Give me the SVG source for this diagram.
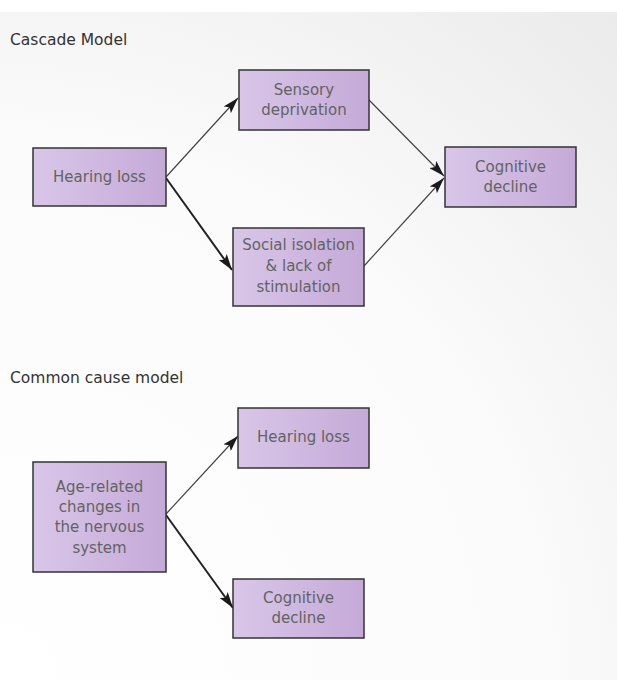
<svg xmlns="http://www.w3.org/2000/svg" width="617" height="680" viewBox="0 0 617 680">
<defs>
<radialGradient id="bg" gradientUnits="userSpaceOnUse" cx="0" cy="680" r="900">
<stop offset="0" stop-color="#ffffff"/>
<stop offset="0.6" stop-color="#fbfbfb"/>
<stop offset="1" stop-color="#ebebeb"/>
</radialGradient>
<linearGradient id="box" x1="0" y1="0" x2="1" y2="0">
<stop offset="0" stop-color="#d8c6e8"/>
<stop offset="1" stop-color="#c5aad8"/>
</linearGradient>
<marker id="ah" viewBox="0 0 16 10" refX="16" refY="5" markerWidth="16" markerHeight="10" markerUnits="userSpaceOnUse" orient="auto">
<path d="M0,0 L16,5 L0,10 L3.5,5 Z" fill="#1a1a1a"/>
</marker>
</defs>
<style>
.box{fill:url(#box);stroke:#333333;stroke-width:1.5}
.t{font-family:"DejaVu Sans",Verdana,sans-serif;font-size:15px;fill:#636363;text-anchor:middle}
.title{font-family:"DejaVu Sans",Verdana,sans-serif;font-size:15.5px;fill:#333333}
.thin{stroke:#444444;stroke-width:1.2;fill:none}
.thick{stroke:#222222;stroke-width:2;fill:none}
</style>
<rect x="0" y="0" width="617" height="680" fill="#ffffff"/>
<rect x="0" y="12" width="617" height="668" fill="url(#bg)"/>
<text class="title" x="10" y="45">Cascade Model</text>
<text class="title" x="10" y="383">Common cause model</text>
<g id="connectors">
<line class="thin" x1="166" y1="177" x2="238" y2="98" marker-end="url(#ah)"/>
<line class="thick" x1="166" y1="178" x2="232" y2="270" marker-end="url(#ah)"/>
<line class="thin" x1="369" y1="100" x2="444" y2="176" marker-end="url(#ah)"/>
<line class="thin" x1="364" y1="266" x2="444" y2="178" marker-end="url(#ah)"/>
<line class="thin" x1="166" y1="514" x2="238" y2="436" marker-end="url(#ah)"/>
<line class="thick" x1="166" y1="515" x2="233" y2="608" marker-end="url(#ah)"/>
</g>
<g id="hearing-loss-1">
<rect class="box" x="33" y="148" width="133" height="58"/>
<text class="t" x="99.5" y="182">Hearing loss</text>
</g>
<g id="sensory-deprivation">
<rect class="box" x="239" y="70" width="130" height="60"/>
<text class="t" x="304" y="95">Sensory</text>
<text class="t" x="304" y="115">deprivation</text>
</g>
<g id="social-isolation">
<rect class="box" x="233" y="228" width="131" height="78"/>
<text class="t" x="298.5" y="250">Social isolation</text>
<text class="t" x="298.5" y="271">&amp; lack of</text>
<text class="t" x="298.5" y="292">stimulation</text>
</g>
<g id="cognitive-decline-1">
<rect class="box" x="445" y="147" width="131" height="60"/>
<text class="t" x="510.5" y="172">Cognitive</text>
<text class="t" x="510.5" y="192">decline</text>
</g>
<g id="age-related">
<rect class="box" x="33" y="462" width="133" height="110"/>
<text class="t" x="99.5" y="492">Age-related</text>
<text class="t" x="99.5" y="512">changes in</text>
<text class="t" x="99.5" y="532">the nervous</text>
<text class="t" x="99.5" y="553">system</text>
</g>
<g id="hearing-loss-2">
<rect class="box" x="238" y="408" width="131" height="60"/>
<text class="t" x="303.5" y="442">Hearing loss</text>
</g>
<g id="cognitive-decline-2">
<rect class="box" x="233" y="579" width="131" height="59"/>
<text class="t" x="298.5" y="603">Cognitive</text>
<text class="t" x="298.5" y="623">decline</text>
</g>
</svg>
